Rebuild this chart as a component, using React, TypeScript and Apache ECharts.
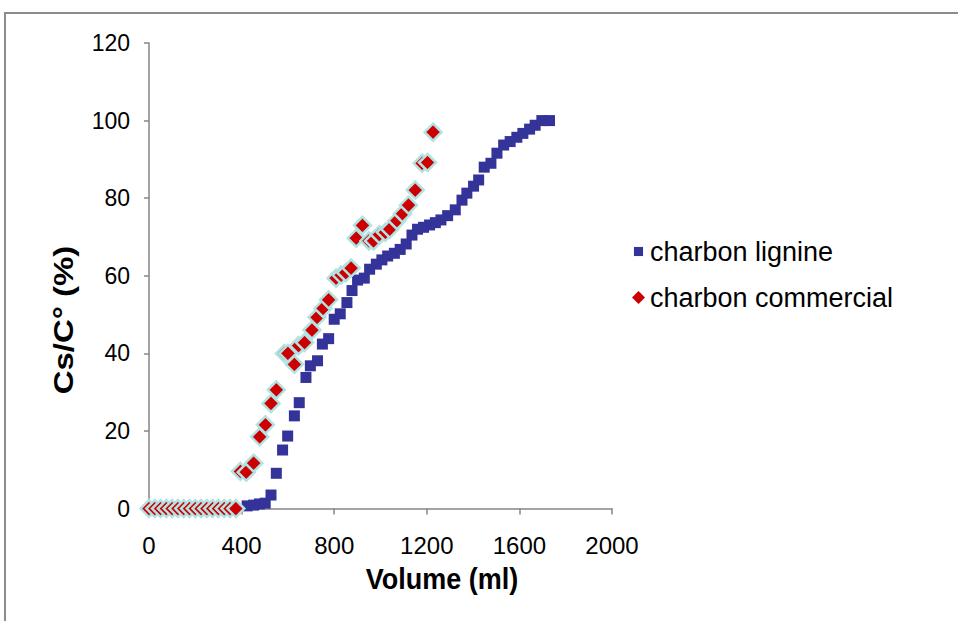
import React, { useEffect, useRef } from 'react';
import * as echarts from 'echarts';

// charbon lignine (blue squares)
const lignineVolume = [424, 452, 477, 502, 527, 550, 577, 599, 628, 649, 678, 697, 728, 749, 776, 800, 826, 855, 877, 901, 930, 953, 982, 1006, 1031, 1060, 1085, 1111, 1136, 1160, 1186, 1212, 1237, 1261, 1290, 1323, 1352, 1373, 1402, 1424, 1448, 1477, 1503, 1532, 1560, 1589, 1615, 1644, 1668, 1697, 1730];
const lignineValue = [0.7, 0.9, 1.2, 1.4, 3.5, 9.1, 15.1, 18.7, 23.9, 27.3, 33.8, 36.8, 38.1, 42.4, 43.8, 48.8, 50.2, 53.1, 56.2, 58.9, 59.4, 61.7, 63, 64.1, 65.1, 65.8, 66.8, 68.2, 70.5, 72, 72.5, 73.1, 73.7, 74.4, 75.5, 77, 79.5, 81.3, 83.1, 84.7, 88, 89, 91.6, 93.7, 94.6, 95.7, 96.7, 97.8, 98.8, 100, 100];

// charbon commercial (red diamonds)
const commercialVolume = [0, 25, 50, 75, 100, 125, 150, 175, 200, 225, 250, 275, 300, 325, 350, 375, 395, 420, 452, 478, 503, 527, 550, 585, 600, 628, 646, 672, 704, 726, 752, 776, 808, 830, 850, 873, 895, 922, 950, 970, 995, 1021, 1040, 1071, 1095, 1121, 1150, 1180, 1203, 1227];
const commercialValue = [0, 0, 0, 0, 0, 0, 0, 0, 0, 0, 0, 0, 0, 0, 0, 0, 9.6, 9.4, 11.7, 18.5, 21.6, 27.1, 30.6, 40, 40, 37.2, 42, 42.8, 46, 49.3, 51.6, 53.8, 59.4, 60.2, 60.8, 62, 69.7, 73, 69, 69, 70.6, 71.2, 72, 74.2, 76, 78.2, 82.1, 89, 89.2, 97];

const seriesNames = ['charbon lignine', 'charbon commercial'];
const xAxisTitle = 'Volume (ml)';
const yAxisTitle = 'Cs/C° (%)';

const FONT = '"Liberation Sans", Arial, sans-serif';

export default function App() {
  const ref = useRef<HTMLDivElement>(null);
  useEffect(() => {
    if (!ref.current) return;
    const chart = echarts.init(ref.current, null, { renderer: 'svg' });
    const lig = lignineVolume.map((v, i) => [v, lignineValue[i]]);
    const com = commercialVolume.map((v, i) => [v, commercialValue[i]]);
    const axisColor = '#868686';
    chart.setOption({
      animation: false,
      backgroundColor: '#ffffff',
      grid: { left: 149, top: 43, width: 463, height: 465.6, containLabel: false },
      xAxis: {
        type: 'value', min: 0, max: 2000, interval: 400,
        axisLine: { show: true, onZero: false, lineStyle: { color: axisColor, width: 1.5 } },
        axisTick: { show: true, length: 6, lineStyle: { color: axisColor, width: 1.5 } },
        axisLabel: { fontSize: 24, color: '#000', margin: 25, fontFamily: FONT, formatter: (v: number) => String(v) },
        splitLine: { show: false },
      },
      yAxis: {
        type: 'value', min: 0, max: 120, interval: 20,
        axisLine: { show: true, lineStyle: { color: axisColor, width: 1.5 } },
        axisTick: { show: true, length: 5, lineStyle: { color: axisColor, width: 1.5 } },
        axisLabel: { fontSize: 23, color: '#000', margin: 19, fontFamily: FONT, formatter: (v: number) => String(v) },
        splitLine: { show: false },
      },
      legend: {
        orient: 'vertical', left: 627, top: 233, itemGap: 19,
        itemWidth: 13, itemHeight: 13, itemSpacing: 4,
        textStyle: { fontSize: 27, color: '#000', fontFamily: FONT },
        data: [
          { name: seriesNames[0], icon: 'path://M0,0M12,12M1.8,1.8h8.4v8.4h-8.4z', itemStyle: { borderWidth: 0 } },
          { name: seriesNames[1], icon: 'diamond', itemStyle: { borderWidth: 0, shadowBlur: 0 } },
        ],
      },
      series: [
        {
          type: 'scatter', name: seriesNames[0], data: lig,
          symbol: 'rect', symbolSize: 11,
          itemStyle: { color: '#333399', opacity: 1 },
        },
        {
          type: 'scatter', name: seriesNames[1], data: com,
          symbol: 'diamond', symbolSize: 17,
          itemStyle: { color: '#cc0000', opacity: 1, borderColor: '#b2e2e2', borderWidth: 2.5 },
        },
      ],
      graphic: [
        { type: 'rect', shape: { x: 5, y: 13, width: 1000, height: 700 }, style: { fill: 'none', stroke: '#8c8c8c', lineWidth: 2 }, silent: true },
        {
          type: 'text', x: 64, y: 320, rotation: Math.PI / 2, scaleX: 1.22,
          style: { text: yAxisTitle, font: `bold 27px ${FONT}`, fill: '#000', align: 'center', verticalAlign: 'middle' },
        },
        {
          type: 'text', x: 442, y: 579, scaleY: 1.1,
          style: { text: xAxisTitle, font: `bold 27px ${FONT}`, fill: '#000', align: 'center', verticalAlign: 'middle' },
        },
      ],
    });
    return () => chart.dispose();
  }, []);
  return <div ref={ref} style={{ position: 'fixed', left: 0, top: 0, width: 958, height: 621 }} />;
}
